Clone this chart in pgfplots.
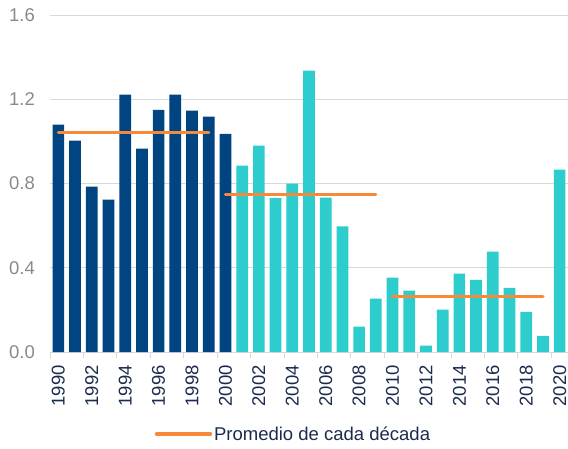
\documentclass[border=0pt]{standalone}
\usepackage{pgfplots}
\pgfplotsset{compat=1.18}
\usepackage{fontspec}
\setmainfont{Liberation Sans}
\definecolor{navybar}{HTML}{004481}
\definecolor{aqua}{HTML}{2DCCCD}
\definecolor{orangeL}{HTML}{F7893B}
\definecolor{txtnavy}{HTML}{1B2A4E}
\definecolor{txtgray}{HTML}{8A8A8A}
\definecolor{gridgray}{HTML}{D9D9D9}
\newcommand\ff{\fontsize{18.5}{22}\selectfont}
\begin{document}
\begin{tikzpicture}
\path[use as bounding box] (-50pt,-96pt) rectangle (518pt,352pt);
\begin{axis}[
  scale only axis, width=518pt, height=337pt,
  xmin=1989.5, xmax=2020.5, ymin=0, ymax=1.6,
  axis x line*=bottom, axis y line*=left,
  y axis line style={draw=none},
  x axis line style={draw=gridgray, line width=0.8pt},
  ytick={0,0.4,0.8,1.2,1.6},
  ytick style={draw=none},
  ymajorgrids, grid style={draw=gridgray, line width=0.8pt},
  /pgf/number format/assume math mode=true,
  yticklabel style={/pgf/number format/fixed, /pgf/number format/fixed zerofill, /pgf/number format/precision=1},
  yticklabel style={font=\ff, text=txtgray, inner sep=0pt, anchor=east},
  yticklabel shift=15pt,
  xtick={1990,1992,...,2020},
  xticklabel style={font=\ff, text=txtnavy, rotate=90, anchor=east, inner sep=0pt,
    /pgf/number format/1000 sep={}},
  xticklabel shift=13pt,
  major tick length=0pt,
  extra x ticks={1989.5,1991.5,...,2019.5},
  extra x tick labels={},
  extra x tick style={major tick length=6pt, tick align=outside, grid=none,
    tick style={draw=gridgray, line width=0.8pt}},
  clip=false,
  legend style={at={(axis description cs:0.47,0)}, anchor=center, yshift=-82pt,
    draw=none, fill=none, font=\ff, text=txtnavy, inner sep=0pt,
    nodes={inner sep=2pt}},
  legend image code/.code={\draw[#1, line cap=round] (0pt,0pt) -- (54pt,0pt);},
]
\addplot[ybar, bar width=0.7, bar shift=0pt, fill=navybar, draw=none, forget plot]
coordinates {(1990,1.079) (1991,1.003) (1992,0.785) (1993,0.723) (1994,1.222)
 (1995,0.965) (1996,1.150) (1997,1.222) (1998,1.146) (1999,1.117) (2000,1.036)};
\addplot[ybar, bar width=0.7, bar shift=0pt, fill=aqua, draw=none, forget plot]
coordinates {(2001,0.885) (2002,0.980) (2003,0.73) (2004,0.799) (2005,1.336)
 (2006,0.733) (2007,0.596) (2008,0.120) (2009,0.253) (2010,0.353) (2011,0.291)
 (2012,0.030) (2013,0.201) (2014,0.372) (2015,0.343) (2016,0.476) (2017,0.305)
 (2018,0.191) (2019,0.077) (2020,0.866)};
\addplot[orangeL, line width=3.3pt, line cap=round] coordinates {(1990,1.041) (1999,1.041)};
\addlegendentry{Promedio de cada década}
\addplot[orangeL, line width=3.3pt, line cap=round, forget plot] coordinates {(2000,0.747) (2009,0.747)};
\addplot[orangeL, line width=3.3pt, line cap=round, forget plot] coordinates {(2010,0.264) (2019,0.264)};
\end{axis}
\end{tikzpicture}
\end{document}
